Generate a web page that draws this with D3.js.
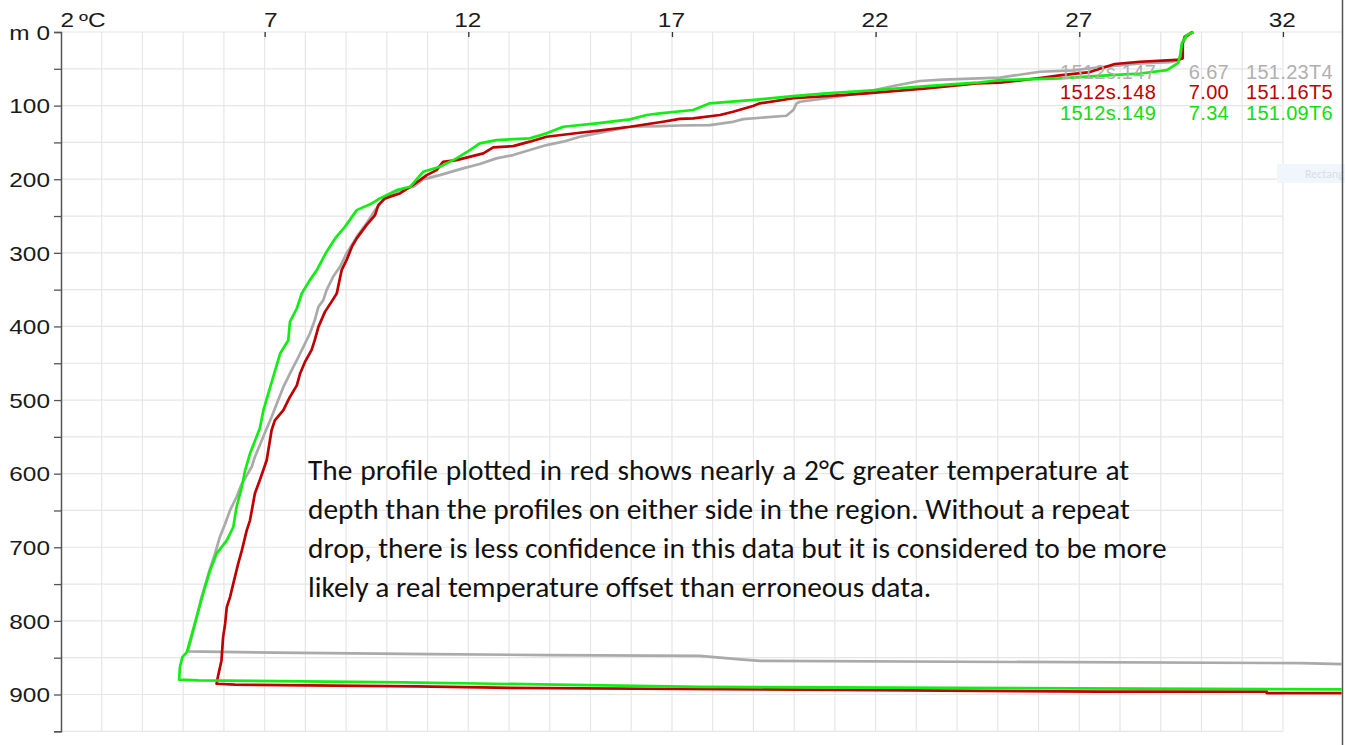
<!DOCTYPE html>
<html>
<head>
<meta charset="utf-8">
<script src="https://cdn.jsdelivr.net/npm/d3@7"></script>
<style>
  body { margin: 0; background: #fff; }
  svg { display: block; }
  .lbl { font-family: "Liberation Sans", Arial, sans-serif; font-size: 20px; fill: #1a1a1a; }
  .leg { font-family: "Liberation Sans", Arial, sans-serif; font-size: 20px; letter-spacing: 0.3px; }
  .note { font-family: Carlito, Lato, sans-serif; font-size: 29.4px; fill: #111; }
</style>
</head>
<body>
<div id="chart"></div>
<script>
// temperature (ºC), depth (m) pairs
const profileT4 = [
  [29.76, 0], [29.63, 7], [29.51, 18], [29.47, 38], [29.22, 41], [28.49, 42.5], [27.67, 47],
  [26.84, 52], [26.03, 54], [25.05, 62], [23.66, 64.6], [23.08, 66.6], [22.43, 73.4],
  [21.61, 83.3], [20.79, 90], [20.14, 94.8], [20.06, 97], [19.98, 106], [19.81, 113.8],
  [18.75, 118.3], [18.5, 122], [17.93, 126.4], [17.19, 127], [16.7, 127.8], [15.97, 128.7],
  [15.15, 137.7], [14.74, 142.3], [14.33, 149], [13.92, 153.6], [13.51, 160.4], [13.1, 167.2],
  [12.69, 171.7], [12.28, 179.4], [11.87, 185.3], [11.3, 194.4], [10.89, 200.2], [10.65, 210.3],
  [10.32, 214.8], [9.91, 228.4], [9.71, 242], [9.5, 260], [9.26, 278.3], [9.01, 300.8],
  [8.85, 319], [8.68, 332.6], [8.52, 350.7], [8.44, 364.3], [8.32, 373.4], [8.23, 391.5],
  [8.11, 409.6], [7.95, 427.8], [7.79, 445.9], [7.62, 464], [7.46, 482.2], [7.33, 500.3],
  [7.17, 523], [7.05, 538.7], [6.76, 577.3], [6.68, 591], [6.44, 613.5], [6.31, 631.7],
  [6.15, 649.8], [6.03, 668], [5.9, 686], [5.78, 708.7], [5.62, 736], [5.45, 767.6],
  [5.33, 794.8], [5.21, 822], [5.12, 840], [5.12, 841.5], [7.25, 843.2], [11.06, 845.1],
  [14.0, 846.5], [17.68, 847.6], [18.67, 852.4], [19.16, 854.4], [32.46, 857.4], [33.44, 858.8]
];

const profileT5 = [
  [29.79, 0], [29.59, 6.4], [29.54, 15], [29.54, 35.8], [29.39, 38], [28.49, 40.4], [27.87, 43.5],
  [27.26, 54.4], [26.52, 59], [26.03, 62.5], [25.7, 64.6], [25.05, 68.9], [24.48, 69.7],
  [23.25, 76.5], [21.78, 83.3], [20.79, 87], [19.98, 90], [19.16, 96.9], [18.99, 100.6],
  [18.5, 108.3], [18.18, 112.8], [17.52, 117.3], [17.19, 118], [16.78, 121.9], [15.97, 128.7],
  [15.15, 134.2], [14.74, 136.9], [13.92, 142.3], [13.51, 149], [13.1, 155], [12.61, 156.7],
  [12.37, 164.9], [11.71, 174], [11.38, 176.3], [11.22, 187.6], [10.98, 194.4], [10.81, 201.2],
  [10.57, 210.3], [10.32, 219.3], [9.95, 226], [9.79, 235.2], [9.71, 248.8], [9.5, 262.4],
  [9.26, 280.4], [9.14, 292], [9.01, 310], [8.89, 323.5], [8.77, 355.2], [8.64, 366.6],
  [8.48, 380.2], [8.32, 400.6], [8.23, 418.7], [8.15, 432.3], [7.99, 448.2], [7.87, 464],
  [7.79, 480], [7.62, 495.8], [7.46, 513.8], [7.25, 527.5], [7.17, 541], [7.05, 581.8],
  [6.88, 609], [6.76, 627], [6.64, 663.4], [6.56, 677], [6.44, 704.2], [6.35, 722.3],
  [6.23, 749.4], [6.15, 767.7], [6.07, 781.3], [6.03, 803.8], [5.98, 822], [5.94, 853.7],
  [5.86, 874], [5.82, 885.4], [6.27, 886.7], [8.07, 887.7], [10.73, 889], [12.69, 890.8],
  [27.5, 896.2], [31.6, 896.2], [31.6, 898.1], [33.44, 898.1]
];

const profileT6 = [
  [29.81, 0], [29.64, 4], [29.52, 15], [29.49, 28.5], [29.43, 42], [29.15, 51.7], [28.49, 56.4],
  [27.68, 59], [26.52, 63], [25.05, 65.3], [24.48, 68.9], [23.25, 73.4], [22.02, 78.8],
  [20.79, 83.3], [19.97, 87], [19.16, 91.5], [17.93, 96.9], [17.52, 106], [16.7, 110.5],
  [16.38, 112.8], [15.97, 118.7], [15.15, 124.1], [14.33, 128.7], [13.92, 137.7], [13.51, 144.5],
  [12.69, 146.8], [12.28, 151.3], [12.04, 160.4], [11.71, 171.7], [11.3, 183.1], [10.89, 189.9],
  [10.57, 210.3], [10.24, 214.8], [9.83, 226.1], [9.63, 232.9], [9.26, 242], [8.97, 264.7],
  [8.73, 280.4], [8.52, 298.5], [8.28, 323.5], [8.11, 337.1], [7.91, 355.2], [7.79, 375.6],
  [7.62, 393.8], [7.58, 418.7], [7.38, 436.8], [7.21, 468.6], [7.09, 491.1], [6.97, 513.8],
  [6.88, 538.7], [6.64, 572.7], [6.52, 595.4], [6.44, 618.1], [6.31, 645.3], [6.23, 672.5],
  [6.07, 690.6], [5.82, 708.7], [5.66, 731.4], [5.49, 763], [5.33, 794.8], [5.17, 826.5],
  [5.09, 842.4], [4.98, 849.2], [4.92, 862.8], [4.9, 879.9], [5.37, 880.9], [7.33, 881.8],
  [10.4, 883.6], [12.61, 885.4], [17.69, 889.7], [33.44, 893]
];

const probeIds = ["1512s.147", "1512s.148", "1512s.149"];
const probeValues = ["6.67", "7.00", "7.34"];
const probeTags = ["151.23T4", "151.16T5", "151.09T6"];

const tempTicks = [2, 7, 12, 17, 22, 27, 32];
const depthTicks = [0, 100, 200, 300, 400, 500, 600, 700, 800, 900];

const noteLines = [
  "The profile plotted in red shows nearly a 2°C greater temperature at",
  "depth than the profiles on either side in the region. Without a repeat",
  "drop, there is less confidence in this data but it is considered to be more",
  "likely a real temperature offset than erroneous data."
];

function init() {
  const W = 1345, H = 745;
  const stretch = "scale(1.22,1)"; // the axis font is drawn wide
  const svg = d3.select("#chart").append("svg")
    .attr("width", W).attr("height", H);

  const x = d3.scaleLinear().domain([2, 33.45]).range([61, 1342]);
  const y = d3.scaleLinear().domain([0, 950]).range([32, 731.3]);

  // grid
  const grid = svg.append("g").attr("stroke", "#e6e6e6").attr("stroke-width", 1.2);
  grid.selectAll(".gx").data(d3.range(3, 33))
    .enter().append("line")
    .attr("x1", d => x(d)).attr("x2", d => x(d))
    .attr("y1", y(0)).attr("y2", y(950));
  grid.selectAll(".gy").data(d3.range(50, 951, 50))
    .enter().append("line")
    .attr("x1", x(2)).attr("x2", x(32))
    .attr("y1", d => y(d)).attr("y2", d => y(d));
  grid.append("line")
    .attr("x1", x(2)).attr("x2", 1342)
    .attr("y1", y(0)).attr("y2", y(0));

  // stray selection box at the right edge
  svg.append("rect")
    .attr("x", 1277).attr("y", 164).attr("width", 68).attr("height", 19)
    .attr("fill", "#f1f6fd");
  svg.append("text")
    .attr("x", 1305).attr("y", 178)
    .style("font-family", "Carlito, Lato, sans-serif")
    .style("font-size", "12px")
    .attr("fill", "#d8dde6")
    .text("Rectang");

  // left axis
  const yAxis = d3.axisLeft(y)
    .tickValues(d3.range(0, 951, 50))
    .tickSize(7)
    .tickFormat(d => depthTicks.includes(d) ? (d === 0 ? "m 0" : d) : "");
  const ga = svg.append("g")
    .attr("transform", `translate(${x(2)},0)`)
    .call(yAxis);
  ga.select(".domain").attr("stroke", "#555").attr("stroke-width", 1.5);
  ga.selectAll(".tick line").attr("stroke", "#555").attr("stroke-width", 1.3);
  ga.selectAll(".tick text")
    .attr("class", "lbl")
    .attr("x", 0)
    .attr("dy", "0.36em")
    .attr("transform", `translate(-11,0) ${stretch}`);
  ga.attr("font-size", null).attr("font-family", null);

  // top axis
  const xAxis = d3.axisTop(x)
    .tickValues(tempTicks)
    .tickSize(-5)
    .tickFormat(d3.format("d"));
  const gt = svg.append("g")
    .attr("transform", `translate(0,${y(0)})`)
    .call(xAxis);
  gt.select(".domain").remove();
  gt.selectAll(".tick line").attr("stroke", "#333").attr("stroke-width", 1.3)
    .attr("display", d => d === 2 ? "none" : null);
  gt.selectAll(".tick text")
    .attr("class", "lbl")
    .attr("text-anchor", "end")
    .attr("x", 0)
    .attr("y", 0)
    .attr("dy", 0)
    .attr("transform", `translate(12.5,-5) ${stretch}`);
  gt.attr("font-size", null).attr("font-family", null);
  svg.append("text").attr("class", "lbl")
    .attr("transform", `translate(${x(2) + 18},27) ${stretch}`)
    .text("ºC");

  // profiles
  const line = d3.line().x(d => x(d[0])).y(d => y(d[1]));
  const series = [
    { data: profileT4, color: "#aaaaaa" },
    { data: profileT5, color: "#c00000" },
    { data: profileT6, color: "#11ee11" }
  ];
  series.forEach(s => {
    svg.append("path")
      .datum(s.data)
      .attr("d", line)
      .attr("fill", "none")
      .attr("stroke", s.color)
      .attr("stroke-width", 2.7)
      .attr("stroke-linejoin", "round");
  });

  // legend
  const legColors = ["#b0b0b0", "#c00000", "#11dd11"];
  probeIds.forEach((id, i) => {
    const yy = 78.5 + i * 20.7;
    const g = svg.append("g").attr("class", "leg").attr("fill", legColors[i]);
    g.append("text").attr("x", 1060).attr("y", yy).text(id);
    g.append("text").attr("x", 1229).attr("y", yy).attr("text-anchor", "end").text(probeValues[i]);
    g.append("text").attr("x", 1246).attr("y", yy).text(probeTags[i]);
  });

  // note
  const note = svg.append("text").attr("class", "note");
  noteLines.forEach((t, i) => {
    note.append("tspan").attr("x", 308).attr("y", 480 + i * 39)
      .style("word-spacing", i === 0 ? "1.2px" : null)
      .text(t);
  });

  // right border
  svg.append("line")
    .attr("x1", 1342.5).attr("x2", 1342.5)
    .attr("y1", 0).attr("y2", H)
    .attr("stroke", "#555").attr("stroke-width", 1.5);
}
window.onload = init;
</script>
</body>
</html>
